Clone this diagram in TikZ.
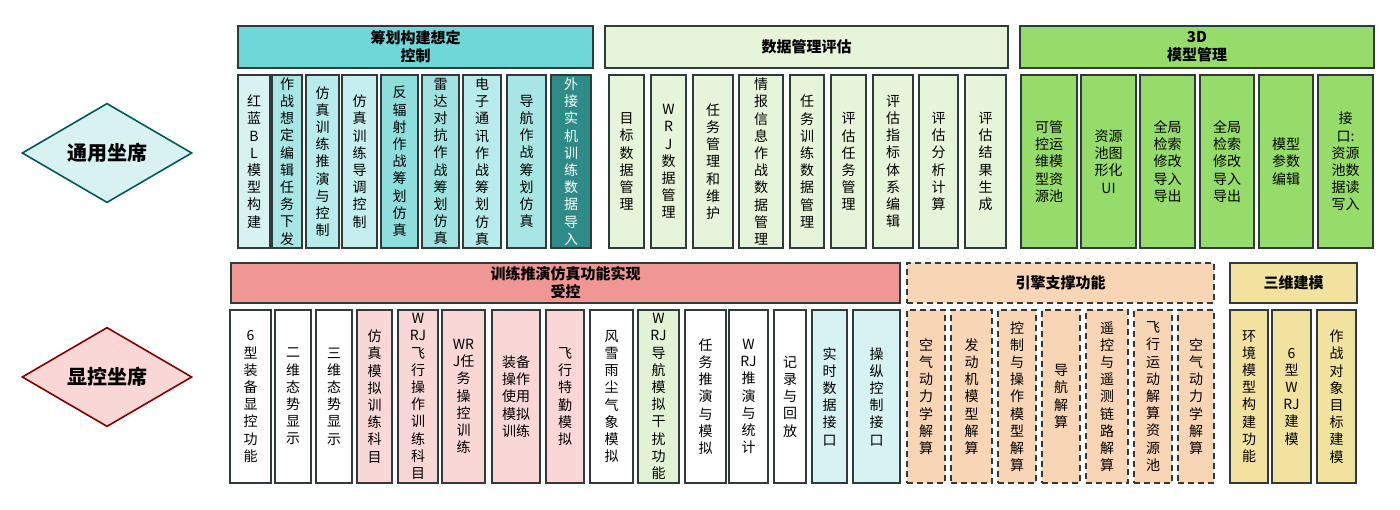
\documentclass[tikz,border=0pt]{standalone}
\usepackage{fontspec}
\setmainfont{Noto Sans CJK SC}
\usetikzlibrary{shapes.geometric}
\definecolor{bd}{HTML}{2F3A3A}
\definecolor{cA}{HTML}{D8F2F2}\definecolor{cB}{HTML}{A8E6E6}\definecolor{cC}{HTML}{B8EBEB}
\definecolor{cD}{HTML}{C5EEEE}\definecolor{cE}{HTML}{8FDEDE}\definecolor{cF}{HTML}{A0E2E2}
\definecolor{cG}{HTML}{2E8B87}\definecolor{hA}{HTML}{6ED8D8}
\definecolor{dm}{HTML}{E6F5D9}\definecolor{g3}{HTML}{96DC6A}
\definecolor{hR}{HTML}{F09694}\definecolor{pk}{HTML}{F9D7D7}\definecolor{lg}{HTML}{E2F3D5}
\definecolor{lc}{HTML}{D6F2F2}\definecolor{or}{HTML}{F8D5B5}\definecolor{ye}{HTML}{F2E2A0}
\tikzset{cellbox/.style={draw=bd,line width=1pt,inner sep=0pt,align=center,
  font=\fontsize{7}{8.6}\selectfont},
  headbox/.style={cellbox,font=\fontsize{7.5}{9}\selectfont\bfseries},
  dsh/.style={dash pattern=on 3pt off 2pt}}
\newcommand\cl[8][]{\node[cellbox,#1,fill=#7,minimum width={(#4-#3)*0.5pt},minimum height={(#6-#5)*0.5pt}]
  (#2) at ({(#3+#4)/2},{(#5+#6)/2}) {#8};}
\newcommand\hd[8][]{\node[headbox,#1,fill=#7,minimum width={(#4-#3)*0.5pt},minimum height={(#6-#5)*0.5pt}]
  (#2) at ({(#3+#4)/2},{(#5+#6)/2}) {#8};}
\begin{document}
\begin{tikzpicture}[x=0.5pt,y=-0.5pt]
\useasboundingbox (0,0) rectangle (1400,509);
\node[diamond,draw=teal!70!black,fill=cA,line width=0.8pt,minimum width=85pt,minimum height=40pt,inner sep=0pt,font=\fontsize{10}{12}\selectfont\bfseries] (ty) at (107,153) {通用坐席};
\node[diamond,draw=red!50!black,fill=pk,line width=0.8pt,minimum width=85pt,minimum height=40pt,inner sep=0pt,font=\fontsize{10}{12}\selectfont\bfseries] (xk) at (107,377) {显控坐席};
% top group 1
\hd{h1}{238}{593}{26}{68}{hA}{筹划构建想定\\控制}
\cl{a1}{238}{270}{75}{248}{cA}{红\\蓝\\B\\L\\模\\型\\构\\建}
\cl{a2}{272}{302}{75}{248}{cB}{作\\战\\想\\定\\编\\辑\\任\\务\\下\\发}
\cl{a3}{306}{339}{75}{248}{cC}{仿\\真\\训\\练\\推\\演\\与\\控\\制}
\cl{a4}{342}{377}{75}{248}{cD}{仿\\真\\训\\练\\导\\调\\控\\制}
\cl{a5}{381}{418}{75}{248}{cE}{反\\辐\\射\\作\\战\\筹\\划\\仿\\真}
\cl{a6}{422}{459}{75}{248}{cF}{雷\\达\\对\\抗\\作\\战\\筹\\划\\仿\\真}
\cl{a7}{463}{501}{75}{248}{cC}{电\\子\\通\\讯\\作\\战\\筹\\划\\仿\\真}
\cl{a8}{507}{546}{75}{248}{cB}{导\\航\\作\\战\\筹\\划\\仿\\真}
\cl[text=white]{a9}{551}{591}{75}{248}{cG}{外\\接\\实\\机\\训\\练\\数\\据\\导\\入}
% group 2
\hd{h2}{605}{1008}{26}{68}{dm}{数据管理评估}
\cl{b1}{609}{644}{75}{248}{dm}{目\\标\\数\\据\\管\\理}
\cl{b2}{651}{686}{75}{248}{dm}{W\\R\\J\\数\\据\\管\\理}
\cl{b3}{693}{733}{75}{248}{dm}{任\\务\\管\\理\\和\\维\\护}
\cl{b4}{739}{783}{75}{248}{dm}{情\\报\\信\\息\\作\\战\\数\\据\\管\\理}
\cl{b5}{790}{824}{75}{248}{dm}{任\\务\\训\\练\\数\\据\\管\\理}
\cl{b6}{831}{866}{75}{248}{dm}{评\\估\\任\\务\\管\\理}
\cl{b7}{873}{913}{75}{248}{dm}{评\\估\\指\\标\\体\\系\\编\\辑}
\cl{b8}{919}{958}{75}{248}{dm}{评\\估\\分\\析\\计\\算}
\cl{b9}{965}{1006}{75}{248}{dm}{评\\估\\结\\果\\生\\成}
% group 3
\hd{h3}{1020}{1374}{26}{68}{g3}{3D\\模型管理}
\cl{c1}{1021}{1077}{75}{248}{g3}{可管\\控运\\维模\\型资\\源池}
\cl{c2}{1081}{1136}{75}{248}{g3}{资源\\池图\\形化\\UI}
\cl{c3}{1140}{1195}{75}{248}{g3}{全局\\检索\\修改\\导入\\导出}
\cl{c4}{1200}{1254}{75}{248}{g3}{全局\\检索\\修改\\导入\\导出}
\cl{c5}{1259}{1313}{75}{248}{g3}{模型\\参数\\编辑}
\cl{c6}{1318}{1373}{75}{248}{g3}{接\\口:\\资源\\池数\\据读\\写入}
% bottom group 1
\hd{h4}{231}{900}{263}{303}{hR}{训练推演仿真功能实现\\受控}
\cl{d1}{230}{271}{310}{483}{white}{6\\型\\装\\备\\显\\控\\功\\能}
\cl{d2}{275}{311}{310}{483}{white}{二\\维\\态\\势\\显\\示}
\cl{d3}{316}{352}{310}{483}{white}{三\\维\\态\\势\\显\\示}
\cl{d4}{357}{392}{310}{483}{pk}{仿\\真\\模\\拟\\训\\练\\科\\目}
\cl{d5}{398}{438}{310}{483}{pk}{W\\RJ\\飞\\行\\操\\作\\训\\练\\科\\目}
\cl{d6}{442}{485}{310}{483}{pk}{WR\\J任\\务\\操\\控\\训\\练}
\cl{d7}{492}{540}{310}{483}{pk}{装备\\操作\\使用\\模拟\\训练}
\cl{d8}{546}{584}{310}{483}{pk}{飞\\行\\特\\勤\\模\\拟}
\cl{d9}{590}{633}{310}{483}{white}{风\\雪\\雨\\尘\\气\\象\\模\\拟}
\cl{d10}{638}{679}{310}{483}{lg}{W\\RJ\\导\\航\\模\\拟\\干\\扰\\功\\能}
\cl{d11}{685}{726}{310}{483}{white}{任\\务\\推\\演\\与\\模\\拟}
\cl{d12}{729}{768}{310}{483}{white}{W\\RJ\\推\\演\\与\\统\\计}
\cl{d13}{774}{806}{310}{483}{white}{记\\录\\与\\回\\放}
\cl{d14}{812}{847}{310}{483}{lc}{实\\时\\数\\据\\接\\口}
\cl{d15}{853}{900}{310}{483}{lc}{操\\纵\\控\\制\\接\\口}
% engine
\hd[dsh]{h5}{907}{1214}{263}{303}{or}{引擎支撑功能}
\cl[dsh]{e1}{907}{945}{310}{483}{or}{空\\气\\动\\力\\学\\解\\算}
\cl[dsh]{e2}{951}{992}{310}{483}{or}{发\\动\\机\\模\\型\\解\\算}
\cl[dsh]{e3}{998}{1036}{310}{483}{or}{控\\制\\与\\操\\作\\模\\型\\解\\算}
\cl[dsh]{e4}{1042}{1080}{310}{483}{or}{导\\航\\解\\算}
\cl[dsh]{e5}{1086}{1128}{310}{483}{or}{遥\\控\\与\\遥\\测\\链\\路\\解\\算}
\cl[dsh]{e6}{1134}{1172}{310}{483}{or}{飞\\行\\运\\动\\解\\算\\资\\源\\池}
\cl[dsh]{e7}{1178}{1214}{310}{483}{or}{空\\气\\动\\力\\学\\解\\算}
% 3D modelling
\hd{h6}{1230}{1357}{263}{303}{ye}{三维建模}
\cl{f1}{1230}{1268}{310}{483}{ye}{环\\境\\模\\型\\构\\建\\功\\能}
\cl{f2}{1272}{1311}{310}{483}{ye}{6\\型\\W\\RJ\\建\\模}
\cl{f3}{1317}{1356}{310}{483}{ye}{作\\战\\对\\象\\目\\标\\建\\模}
\end{tikzpicture}
\end{document}
